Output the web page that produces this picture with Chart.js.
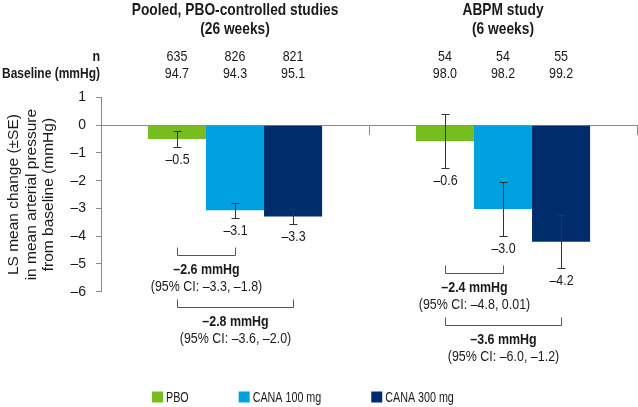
<!DOCTYPE html>
<html>
<head>
<meta charset="utf-8">
<script src="https://cdn.jsdelivr.net/npm/chart.js@4.4.1/dist/chart.umd.min.js"></script>
<style>
  html, body { margin: 0; padding: 0; background: #ffffff; }
  canvas { display: block; }
</style>
</head>
<body>
<canvas id="c" width="638" height="407"></canvas>
<script>
// ---------- data ----------
const groupTitles = ['Pooled, PBO-controlled studies', 'ABPM study'];
const groupSubtitles = ['(26 weeks)', '(6 weeks)'];
const seriesNames = ['PBO', 'CANA 100 mg', 'CANA 300 mg'];

const pboValues = [-0.5, -0.58];
const cana100Values = [-3.06, -3.02];
const cana300Values = [-3.29, -4.2];

const pboSE = [0.28, 0.97];
const cana100SE = [0.27, 0.96];
const cana300SE = [0.27, 0.96];

const pboLabels = ['\u20130.5', '\u20130.6'];
const cana100Labels = ['\u20133.1', '\u20133.0'];
const cana300Labels = ['\u20133.3', '\u20134.2'];

const pboN = [635, 54];
const cana100N = [826, 54];
const cana300N = [821, 55];

const pboBaseline = ['94.7', '98.0'];
const cana100Baseline = ['94.3', '98.2'];
const cana300Baseline = ['95.1', '99.2'];

const diff100 = ['\u20132.6 mmHg', '\u20132.4 mmHg'];
const ci100 = ['(95% CI: \u20133.3, \u20131.8)', '(95% CI: \u20134.8, 0.01)'];
const diff300 = ['\u20132.8 mmHg', '\u20133.6 mmHg'];
const ci300 = ['(95% CI: \u20133.6, \u20132.0)', '(95% CI: \u20136.0, \u20131.2)'];

const yTicks = [1, 0, -1, -2, -3, -4, -5, -6];
const yTitle = ['LS mean change (\u00b1SE)', 'in mean arterial pressure', 'from baseline (mmHg)'];

// ---------- styles ----------
const colors = ['#78bd20', '#00a1df', '#002c6c'];
const FONT = '"Liberation Sans", Arial, sans-serif';
const TXT = '#1a1a1a';
const AXIS = '#8a8a8a';
const NARROW = 0.83;

const seriesValues = [pboValues, cana100Values, cana300Values];
const seriesSE = [pboSE, cana100SE, cana300SE];
const seriesLabels = [pboLabels, cana100Labels, cana300Labels];
const seriesN = [pboN, cana100N, cana300N];
const seriesBase = [pboBaseline, cana100Baseline, cana300Baseline];

function f(size, bold) { return (bold ? 'bold ' : '') + size + 'px ' + FONT; }

// condensed text (emulates a narrow typeface by horizontal scaling)
function nText(ctx, text, x, y, align, font, sx) {
  const k = sx || NARROW;
  ctx.save();
  ctx.font = font;
  ctx.textAlign = align;
  ctx.textBaseline = 'middle';
  ctx.translate(x, y);
  ctx.scale(k, 1);
  ctx.fillText(text, 0, 0);
  const w = ctx.measureText(text).width * k;
  ctx.restore();
  return w;
}

const overlay = {
  id: 'overlay',
  afterDatasetsDraw(chart) {
    const ctx = chart.ctx;
    const y = chart.scales.y;
    const metas = [0, 1, 2].map(i => chart.getDatasetMeta(i));
    ctx.save();
    ctx.strokeStyle = '#333333';
    ctx.lineWidth = 1;
    ctx.fillStyle = TXT;
    const labelY = [[], [], []];
    // error bars & value labels
    seriesValues.forEach((vals, si) => {
      vals.forEach((v, gi) => {
        const bx = Math.round(metas[si].data[gi].x) + 0.5;
        const yt = Math.round(y.getPixelForValue(v + seriesSE[si][gi])) + 0.5;
        const yb = Math.round(y.getPixelForValue(v - seriesSE[si][gi])) + 0.5;
        ctx.beginPath();
        ctx.moveTo(bx, yt); ctx.lineTo(bx, yb);
        ctx.moveTo(bx - 4, yt); ctx.lineTo(bx + 4, yt);
        ctx.moveTo(bx - 4, yb); ctx.lineTo(bx + 4, yb);
        ctx.stroke();
        const ly = yb + 12;
        labelY[si][gi] = ly;
        nText(ctx, seriesLabels[si][gi], bx, ly, 'center', f(15, false));
      });
    });
    // comparison brackets
    ctx.strokeStyle = '#555555';
    for (let gi = 0; gi < 2; gi++) {
      const x0 = Math.round(metas[0].data[gi].x) + 0.5;
      const x1 = Math.round(metas[1].data[gi].x) + 0.5;
      const x2 = Math.round(metas[2].data[gi].x) + 0.5;
      const top1 = Math.round(labelY[1][gi] + 16) + 0.5;
      const h1 = top1 + 8;
      const top2 = top1 + 52;
      const h2 = top2 + 8;
      ctx.beginPath();
      ctx.moveTo(x0, top1); ctx.lineTo(x0, h1); ctx.lineTo(x1, h1); ctx.lineTo(x1, top1);
      ctx.moveTo(x0, top2); ctx.lineTo(x0, h2); ctx.lineTo(x2, h2); ctx.lineTo(x2, top2);
      ctx.stroke();
      nText(ctx, diff100[gi], (x0 + x1) / 2, h1 + 14.5, 'center', f(15, true));
      nText(ctx, diff300[gi], (x0 + x2) / 2, h2 + 14.5, 'center', f(15, true));
      nText(ctx, ci100[gi], (x0 + x1) / 2, h1 + 31.5, 'center', f(15, false));
      nText(ctx, ci300[gi], (x0 + x2) / 2, h2 + 31.5, 'center', f(15, false));
    }
    ctx.restore();
  },
  afterDraw(chart) {
    const ctx = chart.ctx;
    const x = chart.scales.x;
    const metas = [0, 1, 2].map(i => chart.getDatasetMeta(i));
    ctx.save();
    ctx.fillStyle = TXT;
    // group headers
    groupTitles.forEach((t, gi) => {
      const cx = x.getPixelForValue(gi);
      nText(ctx, t, cx, 10, 'center', f(17, true), 0.81);
      nText(ctx, groupSubtitles[gi], cx, 29, 'center', f(17, true), 0.81);
    });
    // n and baseline rows
    nText(ctx, 'n', 100, 57, 'right', f(15, true));
    nText(ctx, 'Baseline (mmHg)', 100, 74, 'right', f(15, true), 0.8);
    seriesN.forEach((arr, si) => {
      arr.forEach((n, gi) => {
        const bx = metas[si].data[gi].x;
        nText(ctx, String(n), bx, 57, 'center', f(15, false));
        nText(ctx, seriesBase[si][gi], bx, 74, 'center', f(15, false));
      });
    });
    // legend
    let lx = 152;
    const ly = 397;
    seriesNames.forEach((name, si) => {
      ctx.fillStyle = colors[si];
      ctx.fillRect(lx, ly - 5.5, 11, 11);
      ctx.fillStyle = TXT;
      const w = nText(ctx, name, lx + 14, ly + 1, 'left', f(14.5, false), 0.74);
      lx += 14 + w + 50;
    });
    ctx.restore();
  }
};

new Chart(document.getElementById('c'), {
  type: 'bar',
  data: {
    labels: groupTitles,
    datasets: seriesNames.map((name, si) => ({
      label: name,
      data: seriesValues[si],
      backgroundColor: colors[si],
      borderWidth: 0,
      categoryPercentage: 0.65,
      barPercentage: 1.0
    }))
  },
  options: {
    responsive: false,
    devicePixelRatio: 1,
    animation: false,
    layout: { padding: { top: 97.5, bottom: 115.3, left: 0, right: 1 } },
    plugins: { legend: { display: false }, tooltip: { enabled: false } },
    scales: {
      x: {
        type: 'category',
        position: { y: 0 },
        afterFit(scale) { scale.height = 0; },
        ticks: { display: false },
        grid: { drawOnChartArea: false, drawTicks: true, tickLength: 9, color: AXIS, offset: true },
        border: { display: true, color: AXIS, width: 1 }
      },
      y: {
        min: -6,
        max: 1,
        afterFit(scale) { scale.width = 101; },
        afterBuildTicks(scale) { scale.ticks = yTicks.map(v => ({ value: v })); },
        ticks: {
          stepSize: 1,
          padding: 10,
          color: TXT,
          font: { family: FONT, size: 14 },
          callback: v => (v < 0 ? '\u2013' + Math.abs(v) : String(v))
        },
        grid: { drawOnChartArea: false, drawTicks: true, tickLength: 5, color: AXIS },
        border: { display: true, color: AXIS, width: 1 },
        title: {
          display: true,
          text: yTitle,
          color: TXT,
          font: { family: FONT, size: 15.5, lineHeight: 1.13 },
          padding: { top: 5, bottom: 0 }
        }
      }
    }
  },
  plugins: [overlay]
});
</script>
</body>
</html>
